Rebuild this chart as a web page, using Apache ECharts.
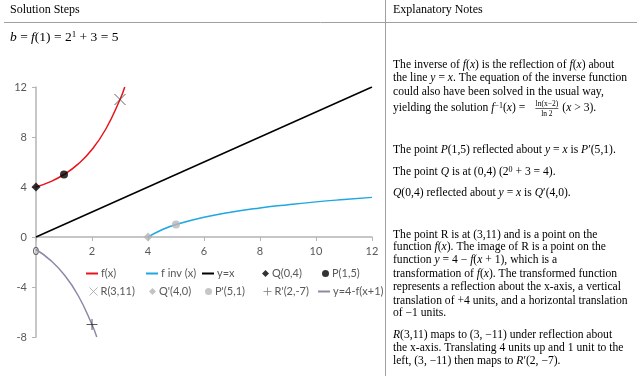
<!DOCTYPE html>
<html>
<head>
<meta charset="utf-8">
<script src="https://cdn.jsdelivr.net/npm/echarts@6/dist/echarts.min.js"></script>
<style>
html,body{margin:0;padding:0;background:#fff;}
#c{width:640px;height:376px;}
</style>
</head>
<body>
<div id="c"></div>
<script>
// ---- data ----
var fxPoints = [[0,4],[0.5,4.41],[1,5],[1.5,5.83],[2,7],[2.5,8.66],[3,11],[3.17,12]];
var finvPoints = [[4,0],[4.5,0.58],[5,1],[6,1.58],[7,2],[8,2.32],[9,2.58],[10,2.81],[11,3],[12,3.17]];
var yxPoints = [[0,0],[12,12]];
var gPoints = [[0,-1],[0.5,-1.83],[1,-3],[1.5,-4.66],[2,-7],[2.17,-8]];
var Q = [[0,4]];
var P = [[1,5]];
var R = [[3,11]];
var Qp = [[4,0]];
var Pp = [[5,1]];
var Rp = [[2,-7]];
var seriesNames = ['f(x)','f inv (x)','y=x','Q(0,4)','P(1,5)','R(3,11)','Q\'(4,0)','P\'(5,1)','R\'(2,-7)','y=4-f(x+1)'];
var xTicks = {min:0, max:12, interval:2};
var yTicks = {min:-8, max:12, interval:4};

var SERIF = '"Liberation Serif", "DejaVu Serif", serif';
var SANS = 'Lato, "Liberation Sans", sans-serif';
var crossPath = 'path://M0,0L10,10M10,0L0,10';
var plusPath = 'path://M5,0L5,10M0,5L10,5';
var NOTE_SIZE = 11.6;

var chart = echarts.init(document.getElementById('c'), null, {renderer:'canvas'});

function lineSeries(name, data, color, smooth){
  return {name:name, type:'line', data:data, smooth:smooth, symbol:'none',
    lineStyle:{color:color, width:1.5}, itemStyle:{color:color}, z:2, silent:true};
}
function scatterSeries(name, data, symbol, size, color, stroke){
  var s = {name:name, type:'scatter', data:data, symbol:symbol, symbolSize:size, z:5, silent:true};
  if(stroke){ s.itemStyle = {color:'rgba(0,0,0,0)', borderColor:color, borderWidth:1}; }
  else { s.itemStyle = {color:color}; }
  return s;
}

// [left, top, icon, w, h, strokeColor(optional)]
var legendPos = [
  [86,268,'rect',12,2],[146,268,'rect',12,2],[202,268,'rect',12,2],[262,268,'diamond',7,7],[322,268,'circle',7,7],
  [89,286,crossPath,8,8,'#a0a0a0'],[149,286,'diamond',7,7],[205,286,'circle',7,7],[263,286,plusPath,8,8,'#808080'],[318,286,'rect',12,2]
];
var legends = legendPos.map(function(p,i){
  var l = {data:[seriesNames[i]], left:p[0], top:p[1], icon:p[2], itemWidth:p[3], itemHeight:p[4],
    itemGap:0, padding:0, selectedMode:false,
    textStyle:{color:'#595959', fontFamily:SANS, fontSize:11, padding:[0,0,0,-2]}};
  if(p[5]){ l.itemStyle = {color:'rgba(0,0,0,0)', borderColor:p[5], borderWidth:1}; }
  return l;
});

function T(x,y,text,opts){
  opts = opts || {};
  var sz = opts.size||NOTE_SIZE;
  return {type:'text', x:x, y:y, silent:true, style:{
    text:text, fill:'#000', fontFamily:SERIF, fontSize:sz, verticalAlign:'middle', align:opts.align||'left',
    rich:{
      i:{fontStyle:'italic', fontFamily:SERIF, fontSize:sz},
      sup:{fontFamily:SERIF, fontSize:Math.round(sz*0.65), verticalAlign:'top', padding:[0,0,5,0]}
    }
  }};
}

var notes = [
  [65,'The inverse of {i|f}({i|x}) is the reflection of {i|f}({i|x}) about'],
  [78,'the line {i|y} = {i|x}. The equation of the inverse function'],
  [92,'could also have been solved in the usual way,'],
  [108,'yielding the solution {i|f}{sup|−1}({i|x}) ='],
  [150,'The point {i|P}(1,5) reflected about {i|y} = {i|x} is {i|P}′(5,1).'],
  [172,'The point {i|Q} is at (0,4) (2{sup|0} + 3 = 4).'],
  [193,'{i|Q}(0,4) reflected about {i|y} = {i|x} is {i|Q}′(4,0).'],
  [235,'The point R is at (3,11) and is a point on the'],
  [247,'function {i|f}({i|x}). The image of R is a point on the'],
  [260,'function {i|y} = 4 − {i|f}({i|x} + 1), which is a'],
  [274,'transformation of {i|f}({i|x}). The transformed function'],
  [287,'represents a reflection about the x-axis, a vertical'],
  [301,'translation of +4 units, and a horizontal translation'],
  [313,'of −1 units.'],
  [335,'{i|R}(3,11) maps to (3, −11) under reflection about'],
  [348,'the x-axis. Translating 4 units up and 1 unit to the'],
  [361,'left, (3, −11) then maps to {i|R}′(2, −7).']
];

// measure where the "=" of the yielding line ends, to place the fraction after it
var mctx = document.createElement('canvas').getContext('2d');
mctx.font = NOTE_SIZE + 'px "Liberation Serif"';
var eqEnd = 393 + mctx.measureText('yielding the solution f−1(x) =').width;
var fracL = eqEnd + 5, fracR = fracL + 23, fracC = (fracL + fracR) / 2;

var graphics = [
  {type:'line', silent:true, shape:{x1:4,y1:22.5,x2:637,y2:22.5}, style:{stroke:'#a0a0a0', lineWidth:1}},
  {type:'line', silent:true, shape:{x1:385.5,y1:0,x2:385.5,y2:376}, style:{stroke:'#a0a0a0', lineWidth:1}},
  T(10,10,'Solution Steps',{size:12}),
  T(393,10,'Explanatory Notes',{size:12}),
  T(10,37,'{i|b} = {i|f}(1) = 2{sup|1} + 3 = 5',{size:13.5})
];
notes.forEach(function(n){ graphics.push(T(393,n[0],n[1])); });
graphics.push(T(fracC,104,'ln(x−2)',{size:7.5,align:'center'}));
graphics.push({type:'line', silent:true, shape:{x1:fracL,y1:108.5,x2:fracR,y2:108.5}, style:{stroke:'#000', lineWidth:0.6}});
graphics.push(T(fracC,114,'ln 2',{size:7.5,align:'center'}));
graphics.push(T(fracR + 4,108,'({i|x} > 3).'));

var option = {
  animation:false,
  backgroundColor:'#fff',
  grid:{left:36, right:268, top:87, bottom:39, containLabel:false},
  xAxis:{type:'value', min:xTicks.min, max:xTicks.max, interval:xTicks.interval,
    offset:-100,
    axisLine:{onZero:false, lineStyle:{color:'#b4b4b4', width:1.5}},
    axisTick:{show:true, length:4, lineStyle:{color:'#b4b4b4'}},
    axisLabel:{color:'#595959', fontFamily:SANS, fontSize:11, margin:9},
    splitLine:{show:false}},
  yAxis:{type:'value', min:yTicks.min, max:yTicks.max, interval:yTicks.interval,
    axisLine:{show:true, onZero:false, lineStyle:{color:'#b4b4b4', width:1.5}},
    axisTick:{show:true, length:4, lineStyle:{color:'#b4b4b4'}},
    axisLabel:{color:'#595959', fontFamily:SANS, fontSize:11, margin:9},
    splitLine:{show:false}},
  legend:legends,
  series:[
    lineSeries(seriesNames[0], fxPoints, '#e8141c', true),
    lineSeries(seriesNames[1], finvPoints, '#1ea7e1', true),
    lineSeries(seriesNames[2], yxPoints, '#000000', false),
    scatterSeries(seriesNames[3], Q, 'diamond', 9, '#000000'),
    scatterSeries(seriesNames[4], P, 'circle', 8, '#000000'),
    scatterSeries(seriesNames[5], R, crossPath, 11, '#404040', true),
    scatterSeries(seriesNames[6], Qp, 'diamond', 9, '#b4b4b4'),
    scatterSeries(seriesNames[7], Pp, 'circle', 8, '#b8b8b8'),
    scatterSeries(seriesNames[8], Rp, plusPath, 11, '#303030', true),
    lineSeries(seriesNames[9], gPoints, '#8a8aa8', true)
  ],
  graphic:graphics
};
chart.setOption(option);
</script>
</body>
</html>
